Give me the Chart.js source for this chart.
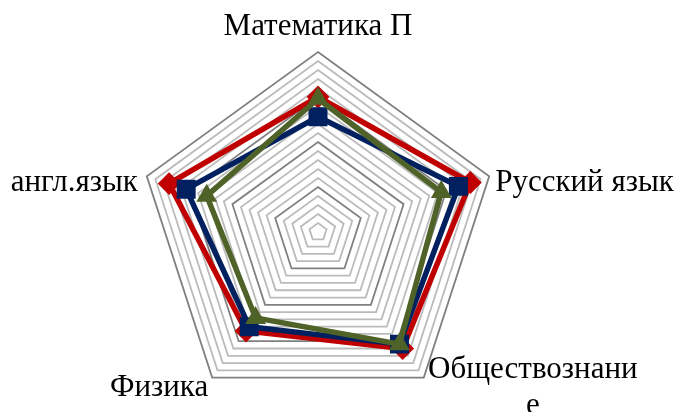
<!DOCTYPE html>
<html>
<head>
<meta charset="utf-8">
<script src="https://cdn.jsdelivr.net/npm/chart.js@4"></script>
<style>
  body { margin: 0; background: #fff; }
  canvas { display: block; }
</style>
</head>
<body>
<canvas id="grafico" width="677" height="412"></canvas>
<script>
// Предметы (оси радара)
const predmety = ['Математика П', 'Русский язык', 'Обществознание', 'Физика', 'англ.язык'];

// Значения трёх рядов (оценка по картинке, шкала 0–100)
const seriyaKrasnaya = [75, 89, 80, 68, 87];
const seriyaSinyaya = [64, 82, 77, 65, 77];
const seriyaZelenaya = [74, 72, 77, 59, 65];

// Шкала
const shkalaMin = 0;
const shkalaMax = 100;
const shkalaShag = 5;

// Подписи осей рисуем сами, чтобы повторить расположение как в Excel
const podpisiOsey = {
    id: 'podpisiOsey',
    afterDraw(chart) {
        const scale = chart.scales.r;
        const ctx = chart.ctx;
        const R = scale.drawingArea;
        ctx.save();
        ctx.fillStyle = '#000';
        ctx.font = '31px "Liberation Serif", "Times New Roman", serif';
        ctx.textBaseline = 'middle';

        // верх
        let p = scale.getPointPosition(0, R);
        ctx.textAlign = 'center';
        ctx.fillText(predmety[0], p.x, p.y - 25);

        // справа
        p = scale.getPointPosition(1, R);
        ctx.textAlign = 'left';
        ctx.fillText(predmety[1], p.x + 6, p.y + 6);

        // справа снизу (перенос как в оригинале)
        p = scale.getPointPosition(2, R);
        ctx.textAlign = 'center';
        ctx.fillText('Обществознани', p.x + 109, p.y - 8);
        ctx.fillText('е', p.x + 109, p.y + 28);

        // слева снизу
        p = scale.getPointPosition(3, R);
        ctx.textAlign = 'right';
        ctx.fillText(predmety[3], p.x - 4, p.y + 10);

        // слева
        p = scale.getPointPosition(4, R);
        ctx.textAlign = 'right';
        ctx.fillText(predmety[4], p.x - 9, p.y + 6);

        ctx.restore();
    }
};

const ctx = document.getElementById('grafico').getContext('2d');

new Chart(ctx, {
    type: 'radar',
    data: {
        labels: predmety,
        datasets: [
            {
                data: seriyaKrasnaya,
                order: 3, // снизу
                borderColor: '#C00000',
                backgroundColor: '#C00000',
                borderWidth: 5.5,
                pointStyle: 'rectRot',
                pointRadius: 10,
                pointBorderWidth: 2,
                fill: false
            },
            {
                data: seriyaSinyaya,
                order: 2,
                borderColor: '#002060',
                backgroundColor: '#002060',
                borderWidth: 5.5,
                pointStyle: 'rect',
                pointRadius: 12,
                pointBorderWidth: 2,
                fill: false
            },
            {
                data: seriyaZelenaya,
                order: 1, // сверху
                borderColor: '#4F6228',
                backgroundColor: '#4F6228',
                borderWidth: 5.5,
                pointStyle: 'triangle',
                pointRadius: 10,
                pointBorderWidth: 2,
                fill: false
            }
        ]
    },
    options: {
        responsive: false,
        animation: false,
        layout: {
            padding: { top: 52, bottom: 0, left: 0, right: 41 }
        },
        plugins: {
            legend: { display: false },
            tooltip: { enabled: false }
        },
        scales: {
            r: {
                min: shkalaMin,
                max: shkalaMax,
                ticks: { stepSize: shkalaShag, display: false },
                angleLines: { display: false },
                pointLabels: { display: false },
                grid: {
                    circular: false,
                    lineWidth: 1.8,
                    color: function (c) {
                        return c.tick && c.tick.value % 25 === 0 ? '#808080' : '#BBBBBB';
                    }
                }
            }
        }
    },
    plugins: [podpisiOsey]
});
</script>
</body>
</html>
